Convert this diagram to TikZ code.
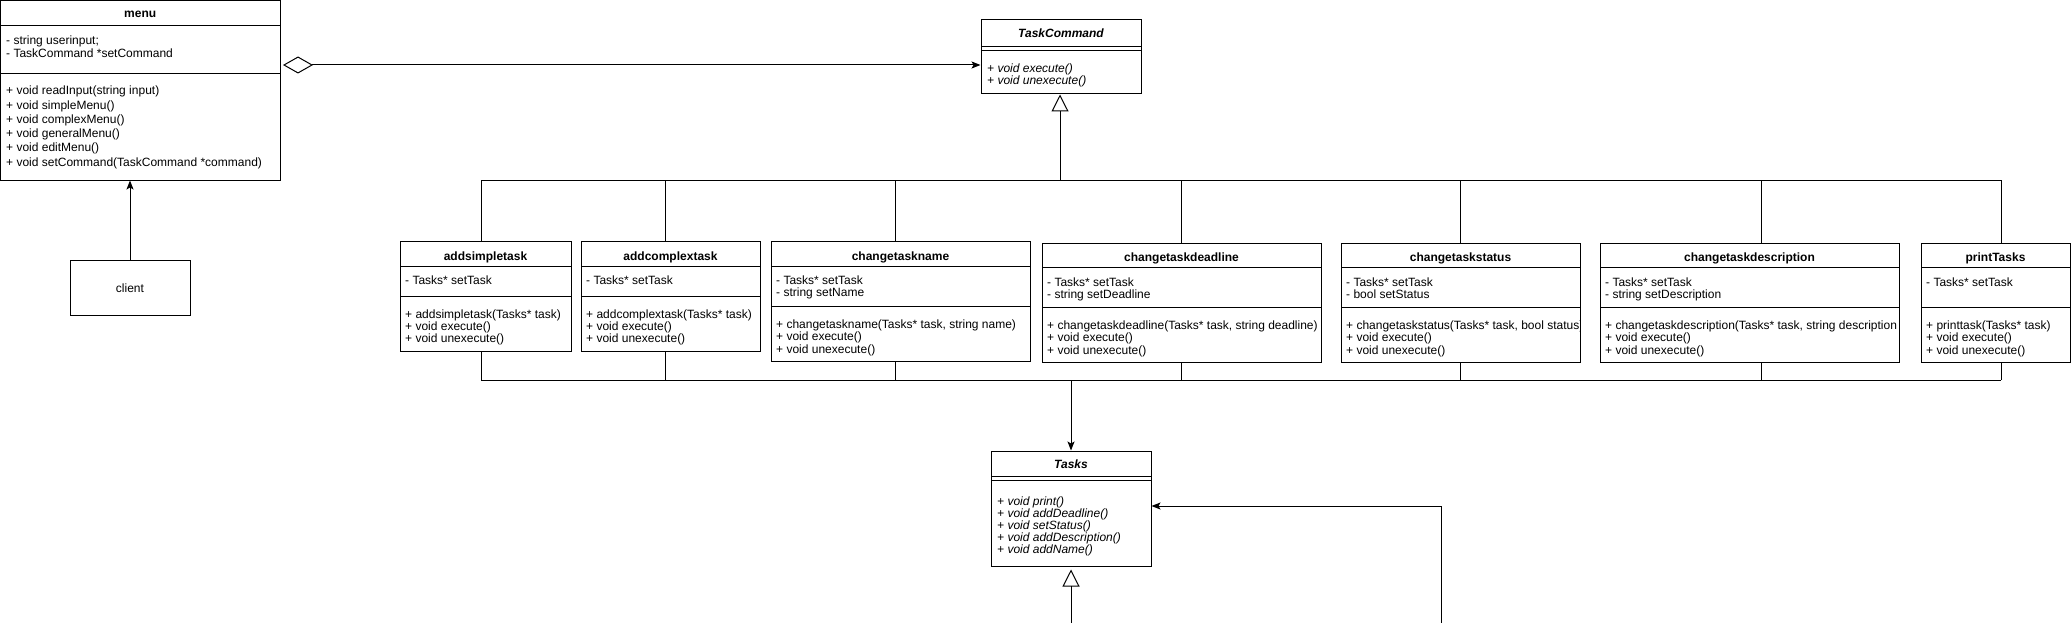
\documentclass[tikz,border=0pt]{standalone}
\usepackage{fontspec}
\setmainfont{Liberation Sans}
\usetikzlibrary{arrows.meta,fit}
\tikzset{
  cls/.style={draw, line width=1pt, inner sep=0pt},
  ln/.style={line width=1pt},
  ttl/.style={font=\fontsize{12}{14}\selectfont\bfseries, inner sep=0pt, anchor=base},
  txt/.style={font=\fontsize{12}{14}\selectfont, inner sep=0pt, anchor=base west},
  itxt/.style={txt, font=\fontsize{12}{14}\selectfont\itshape},
  conn/.style={line width=1pt},
  gen/.style={conn, -{Triangle[open, length=17pt, width=17pt]}},
  assoc/.style={conn, -{Stealth[length=9pt, width=7pt, inset=2pt]}},
}
% name, x1, y1, x2, y2, sep1, sep2, title baseline, title
\newcommand\cbox[9]{%
  \node[cls, fit={(#2,#3)(#4,#5)}] (#1) {};
  \draw[ln] (#2,#6) -- (#4,#6);
  \draw[ln] (#2,#7) -- (#4,#7);
  \node[ttl] (#1-t) at ({(#2+#4)/2},#8) {#9};
}
% style, name prefix, x, first baseline, spacing, lines
\newcommand\clines[6]{%
  \foreach \l [count=\i from 0] in {#6} {\node[#1] (#2\i) at (#3,{#4+\i*#5}) {\l};}
}
\begin{document}
\begin{tikzpicture}[x=1pt,y=-1pt]
\useasboundingbox (0,0) rectangle (2071,623);

% menu
\cbox{menu}{0.5}{0.5}{280}{180}{26}{74}{17.5}{menu}
\clines{txt}{menua}{6}{44.5}{12.8}{{- string userinput;},{- TaskCommand *setCommand}}
\clines{txt}{menum}{6}{95}{14.2}{{+ void readInput(string input)},{+ void simpleMenu()},{+ void complexMenu()},{+ void generalMenu()},{+ void editMenu()},{+ void setCommand(TaskCommand *command)}}

% client
\node[cls, fit={(70,260)(190,315)}] (client) {};
\node[txt, anchor=base] (client-t) at (130,292.5) {client};

% TaskCommand
\cbox{tc}{981}{20}{1141}{94}{47}{51}{38}{\itshape TaskCommand}
\clines{itxt}{tcm}{987}{72.5}{12.5}{{+ void execute()},{+ void unexecute()}}

% children
\cbox{cs}{400}{241}{571}{351}{266}{296}{260}{addsimpletask}
\clines{txt}{csa}{405}{284.5}{12.3}{{- Tasks* setTask}}
\clines{txt}{csm}{405}{318}{12.3}{{+ addsimpletask(Tasks* task)},{+ void execute()},{+ void unexecute()}}

\cbox{cc}{581}{241}{760}{351}{266}{296}{260}{addcomplextask}
\clines{txt}{cca}{586}{284.5}{12.3}{{- Tasks* setTask}}
\clines{txt}{ccm}{586}{318}{12.3}{{+ addcomplextask(Tasks* task)},{+ void execute()},{+ void unexecute()}}

\cbox{cn}{771}{241}{1030}{361}{266}{306}{260}{changetaskname}
\clines{txt}{cna}{776}{284.5}{12.3}{{- Tasks* setTask},{- string setName}}
\clines{txt}{cnm}{776}{328.5}{12.3}{{+ changetaskname(Tasks* task, string name)},{+ void execute()},{+ void unexecute()}}

\cbox{cd}{1042}{243}{1321}{362}{267}{307}{261}{changetaskdeadline}
\clines{txt}{cda}{1047}{286}{12.3}{{- Tasks* setTask},{- string setDeadline}}
\clines{txt}{cdm}{1047}{329.5}{12.3}{{+ changetaskdeadline(Tasks* task, string deadline)},{+ void execute()},{+ void unexecute()}}

\cbox{ct}{1341}{243}{1580}{362}{267}{307}{261}{changetaskstatus}
\clines{txt}{cta}{1346}{286}{12.3}{{- Tasks* setTask},{- bool setStatus}}
\begin{scope}
\clip (1341,243) rectangle (1580,362);
\clines{txt}{ctm}{1346}{329.5}{12.3}{{+ changetaskstatus(Tasks* task, bool status)},{+ void execute()},{+ void unexecute()}}
\end{scope}

\cbox{ce}{1600}{243}{1899}{362}{267}{307}{261}{changetaskdescription}
\clines{txt}{cea}{1605}{286}{12.3}{{- Tasks* setTask},{- string setDescription}}
\clines{txt}{cem}{1605}{329.5}{12.3}{{+ changetaskdescription(Tasks* task, string description},{+ void execute()},{+ void unexecute()}}

\cbox{cp}{1921}{243}{2070}{362}{267}{307}{261}{printTasks}
\clines{txt}{cpa}{1926}{286}{12.3}{{- Tasks* setTask}}
\clines{txt}{cpm}{1926}{329.5}{12.3}{{+ printtask(Tasks* task)},{+ void execute()},{+ void unexecute()}}

% Tasks
\cbox{tasks}{991}{451}{1151}{566}{476}{480}{468}{\itshape Tasks}
\clines{itxt}{tm}{997}{505}{12.1}{{+ void print()},{+ void addDeadline()},{+ void setStatus()},{+ void addDescription()},{+ void addName()}}

% connectors
\coordinate (dstart) at (283,65);
\draw[conn, {Diamond[open, length=30pt, width=17pt]}-{Stealth[length=9pt, width=7pt, inset=2pt]}] (dstart) -- (dstart -| tc.west);
\draw[assoc] (client.north) -- (client.north |- menu.south);

\coordinate (tcbus) at (1060,180);
\draw[gen] (tcbus) -- (tcbus |- tc.south);
\coordinate (busL) at (481,180);
\coordinate (busR) at (2001,180);
\draw[conn] (busL) -- (busR);
\foreach \x/\n in {481/cs,665/cc,895/cn,1181/cd,1460/ct,1761/ce,2001/cp}{
  \coordinate (top-\n) at (\x,180);
  \draw[conn] (top-\n) -- (top-\n |- \n.north);
  \coordinate (bot-\n) at (\x,380);
  \draw[conn] (bot-\n |- \n.south) -- (bot-\n);
}
\draw[conn] (bot-cs) -- (bot-cp);
\coordinate (bmid) at (1071,380);
\draw[assoc] (bmid) -- (bmid |- tasks.north);

\coordinate (rb) at (1441,623);
\coordinate (rt) at (1441,506);
\draw[assoc] (rb) -- (rt) -- (rt -| tasks.east);
\coordinate (tb) at (1071,623);
\draw[gen] (tb) -- ([yshift=-3pt]tb |- tasks.south);
\end{tikzpicture}
\end{document}
